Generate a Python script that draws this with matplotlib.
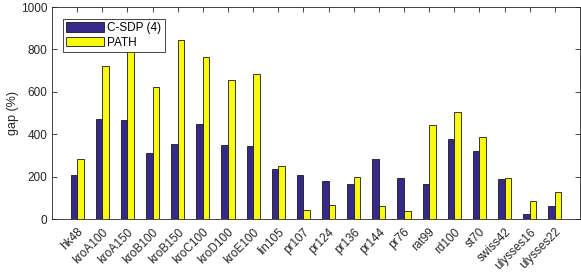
import numpy as np
import matplotlib
matplotlib.use('Agg')
import matplotlib.pyplot as plt

plt.rcParams['font.family'] = ['Liberation Sans', 'DejaVu Sans']

instances = ['hk48', 'kroA100', 'kroA150', 'kroB100', 'kroB150', 'kroC100',
             'kroD100', 'kroE100', 'lin105', 'pr107', 'pr124', 'pr136',
             'pr144', 'pr76', 'rat99', 'rd100', 'st70', 'swiss42',
             'ulysses16', 'ulysses22']
csdp_gap = [208, 471, 468, 313, 354, 446, 350, 346, 236, 208, 181, 167,
            283, 194, 164, 376, 320, 191, 24, 60]
path_gap = [282, 720, 800, 624, 844, 764, 655, 683, 250, 41, 68, 197,
            60, 39, 444, 507, 389, 194, 83, 126]
yticks = [0, 200, 400, 600, 800, 1000]

fig = plt.figure(figsize=(5.81, 2.74), dpi=100)
ax = fig.add_axes([52 / 581, 1 - 219 / 274, 528 / 581, 212 / 274])

x = np.arange(1, len(instances) + 1)
w = 0.26
ax.bar(x - w / 2, csdp_gap, w, color='#352A87', edgecolor='#1a1a1a',
       linewidth=0.6, label='C-SDP (4)')
ax.bar(x + w / 2, path_gap, w, color='#F9FB0E', edgecolor='#1a1a1a',
       linewidth=0.6, label='PATH')

ax.set_xlim(0, 21)
ax.set_ylim(0, 1000)
ax.set_xticks(x)
ax.set_xticklabels(instances, rotation=45, ha='right', rotation_mode='anchor',
                   fontsize=8.5)
ax.set_yticks(yticks)
ax.set_yticklabels([str(v) for v in yticks], fontsize=8.5)
ax.tick_params(direction='in', top=True, right=True, length=3.5,
               width=0.6, color='#262626', labelcolor='#262626')
ax.tick_params(axis='x', pad=5)
for s in ax.spines.values():
    s.set_color('#262626')
    s.set_linewidth(0.6)
ax.set_ylabel('gap (%)', fontsize=9, color='#262626')
ax.yaxis.set_label_coords(-0.062, 0.5)

leg = ax.legend(loc='upper left', bbox_to_anchor=(0.02, 0.945), fontsize=8.5,
                frameon=True, fancybox=False, handlelength=3.2,
                handleheight=0.9, borderpad=0.3, labelspacing=0.2,
                handletextpad=0.3, borderaxespad=0)
leg.get_frame().set_edgecolor('#262626')
leg.get_frame().set_linewidth(0.6)
leg.get_frame().set_alpha(1)

fig.savefig('out.png', dpi=100)
